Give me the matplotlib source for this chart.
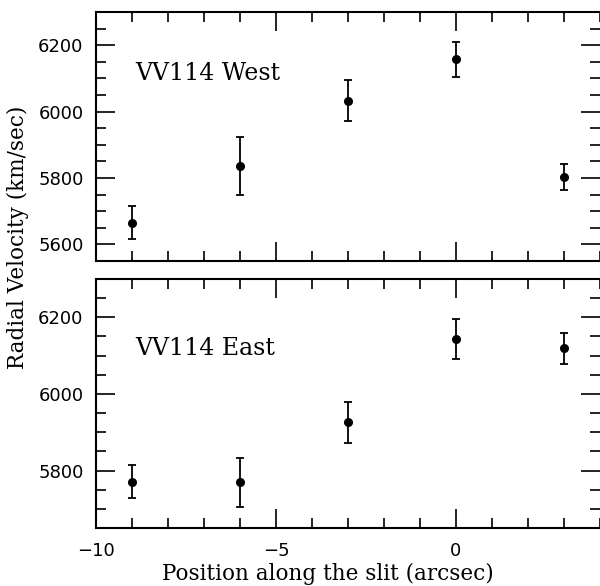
# VV114 radial velocity along the slit, two panels
import matplotlib
matplotlib.use('Agg')
import matplotlib.pyplot as plt
from matplotlib.ticker import MultipleLocator

position = [-9, -6, -3, 0, 3]  # arcsec

west_vel = [5665, 5837, 6033, 6157, 5803]
west_err = [50, 88, 62, 52, 40]

east_vel = [5771, 5769, 5926, 6144, 6119]
east_err = [43, 64, 54, 52, 40]

panels = [
    ('VV114 West', west_vel, west_err, (5550, 6300), 6116),
    ('VV114 East', east_vel, east_err, (5650, 6300), 6119),
]

fig = plt.figure(figsize=(6, 5.86), dpi=100)
ax_top = fig.add_axes([0.16, 0.5546, 0.84, 0.4249])
ax_bot = fig.add_axes([0.16, 0.099, 0.84, 0.4249], sharex=ax_top)

for ax, (name, vel, err, ylim, text_y) in zip([ax_top, ax_bot], panels):
    ax.errorbar(position, vel, yerr=err, fmt='o', color='black', ms=5.5,
                elinewidth=1.3, capsize=3, capthick=1.3)
    ax.set_ylim(*ylim)
    ax.text(-8.9, text_y, name, fontsize=17, family='DejaVu Serif',
            va='center', ha='left')
    ax.yaxis.set_major_locator(MultipleLocator(200))
    ax.yaxis.set_minor_locator(MultipleLocator(50))
    ax.tick_params(which='both', direction='in', top=True, right=True,
                   width=1.2, labelsize=13)
    ax.tick_params(which='major', length=14, pad=9)
    ax.tick_params(which='minor', length=7)
    for sp in ax.spines.values():
        sp.set_linewidth(1.5)
    ax.spines['right'].set_visible(False)  # cut off at the image edge

ax_top.set_xlim(-10, 4)
ax_top.xaxis.set_major_locator(MultipleLocator(5))
ax_top.xaxis.set_minor_locator(MultipleLocator(1))
ax_top.tick_params(labelbottom=False)
ax_bot.tick_params(axis='x', pad=10)

fig.text(0.547, 0.021, 'Position along the slit (arcsec)', ha='center',
         va='center', fontsize=15.5, family='DejaVu Serif')
fig.text(0.03, 0.595, 'Radial Velocity (km/sec)', ha='center', va='center',
         rotation=90, fontsize=15.5, family='DejaVu Serif')

fig.savefig('out.png', dpi=100)
